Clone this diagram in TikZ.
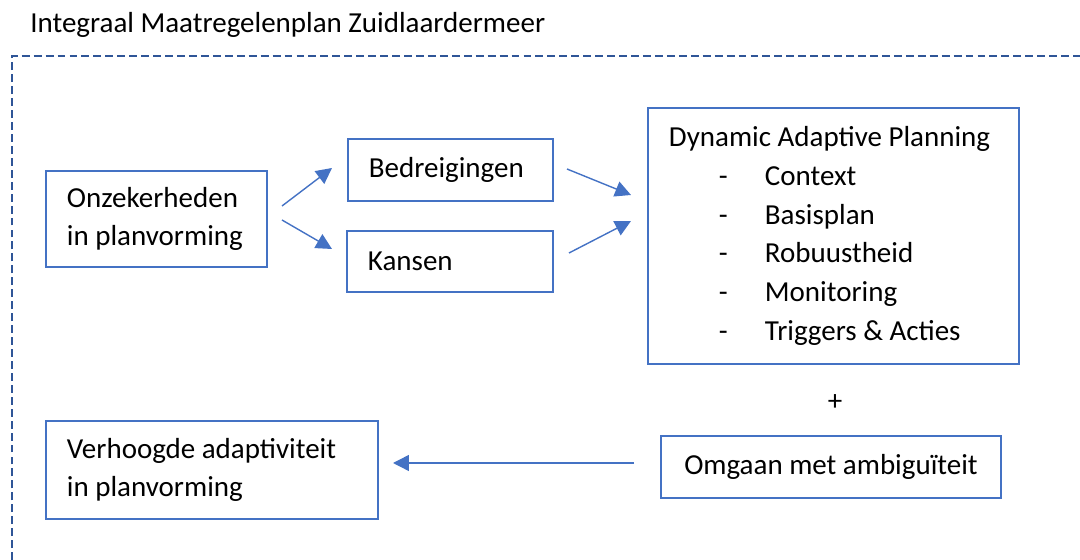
\documentclass[tikz,border=0pt]{standalone}
\usepackage{fontspec}
\setmainfont{Carlito}
\usetikzlibrary{arrows.meta}
\definecolor{boxblue}{HTML}{4472C4}
\definecolor{frameblue}{HTML}{2F5597}

\begin{document}
\begin{tikzpicture}[x=0.02cm, y=-0.02cm,
        font=\fontsize{16.5}{22}\selectfont,
        box/.style={draw=boxblue, line width=1.1pt, inner xsep=0.42cm, inner ysep=0pt, align=flush left, anchor=north west},
        link/.style={draw=boxblue, line width=0.8pt, -{Triangle[length=9pt,width=9pt]}},
        frame/.style={draw=frameblue, line width=1.6pt, dash pattern=on 4.5pt off 2.3pt}]
        \useasboundingbox (0, 0) rectangle (1080, 560);

        \node[anchor=west, inner sep=0pt] (title) at (30, 25) {Integraal Maatregelenplan Zuidlaardermeer};
        \coordinate (fa) at (12, 560);
        \coordinate (fb) at (12, 56);
        \coordinate (fc) at (1080, 56);
        \draw[frame] (fa) -- (fb) -- (fc);

        \node[box, text width=3.58cm, minimum height=1.92cm] (onz) at (45, 170) {Onzekerheden\\in planvorming};
        \node[box, text width=3.26cm, minimum height=1.24cm] (bedr) at (347, 138) {Bedreigingen};
        \node[box, text width=3.28cm, minimum height=1.22cm] (kans) at (346, 230) {Kansen};
        \node[box, text width=6.58cm, minimum height=5.12cm] (dap) at (647, 107) {Dynamic Adaptive Planning\\
            \hspace*{1cm}\makebox[0.92cm][l]{-}Context\\
            \hspace*{1cm}\makebox[0.92cm][l]{-}Basisplan\\
            \hspace*{1cm}\makebox[0.92cm][l]{-}Robuustheid\\
            \hspace*{1cm}\makebox[0.92cm][l]{-}Monitoring\\
            \hspace*{1cm}\makebox[0.92cm][l]{-}Triggers \& Acties};
        \node (plus) at (835, 403) {+};
        \node[box, align=flush center, text width=5.96cm, minimum height=1.24cm] (omg) at (660, 435) {Omgaan met ambiguïteit};
        \node[box, text width=5.8cm, minimum height=1.96cm] (verh) at (45, 420) {Verhoogde adaptiviteit\\in planvorming};

        \coordinate (a1) at (282, 206);
        \coordinate (a2) at (332, 168);
        \coordinate (b1) at (282, 220);
        \coordinate (b2) at (332, 249);
        \coordinate (c1) at (567, 169);
        \coordinate (c2) at (631, 195);
        \coordinate (d1) at (569, 253);
        \coordinate (d2) at (631, 221);
        \coordinate (e1) at (634, 463);
        \coordinate (e2) at (393, 463);

        \draw[link] (a1) to (a2);
        \draw[link] (b1) to (b2);
        \draw[link] (c1) to (c2);
        \draw[link] (d1) to (d2);
        \draw[link] (e1) to (e2);
\end{tikzpicture}
\end{document}
